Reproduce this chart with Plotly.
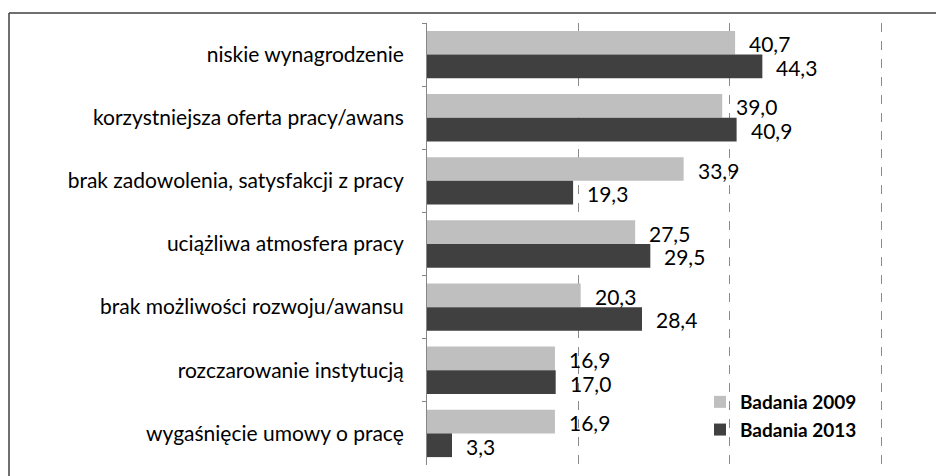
import plotly.graph_objects as go

categories = [
    "niskie wynagrodzenie",
    "korzystniejsza oferta pracy/awans",
    "brak zadowolenia, satysfakcji z pracy",
    "uciążliwa atmosfera pracy",
    "brak możliwości rozwoju/awansu",
    "rozczarowanie instytucją",
    "wygaśnięcie umowy o pracę",
]
values_2009 = [40.7, 39.0, 33.9, 27.5, 20.3, 16.9, 16.9]
values_2013 = [44.3, 40.9, 19.3, 29.5, 28.4, 17.0, 3.3]
series_names = ["Badania 2009", "Badania 2013"]
series_colors = ["#BFBFBF", "#404040"]

FONT = "Lato"
# page body has an 8px margin; figure sized so it fits the 944x476 window
W, H = 936, 468
L, T, B, R = 419, 15, 11, 0
plot_w = W - L - R
plot_h = H - T - B
PX_PER_UNIT = 7.57

fig = go.Figure()
for name, vals, col in zip(series_names, [values_2009, values_2013], series_colors):
    fig.add_trace(go.Bar(
        y=categories, x=vals, name=name, orientation="h",
        marker=dict(color=col, line=dict(width=0)),
    ))

def fmt(v):
    return f"{v:.1f}".replace(".", ",")

band = plot_h / len(categories)
bar_h = band * 0.75 / 2
for vals, sign in [(values_2009, -1), (values_2013, 1)]:
    for cat, v in zip(categories, vals):
        fig.add_annotation(
            x=v, y=cat, text=fmt(v), showarrow=False,
            xanchor="left", yanchor="middle",
            xshift=12, yshift=-sign * bar_h / 2 - 1,
            font=dict(family=FONT, size=21, color="#000000"),
        )

# outer frame (cropped box)
x_left = (1 - L) / plot_w
y_top = (H - B - 5) / plot_h
y_bot = -20 / plot_h
fig.add_shape(type="line", xref="paper", yref="paper", x0=x_left, x1=1.1,
              y0=y_top, y1=y_top, line=dict(color="#404040", width=1.5))
fig.add_shape(type="line", xref="paper", yref="paper", x0=x_left, x1=x_left,
              y0=y_top, y1=y_bot, line=dict(color="#404040", width=1.5))

fig.update_layout(
    width=W, height=H,
    margin=dict(l=L, r=R, t=T, b=B),
    paper_bgcolor="white", plot_bgcolor="white",
    barmode="group", bargap=0.25, bargroupgap=0,
    font=dict(family=FONT, size=21, color="#000000"),
    legend=dict(
        x=(692 - L) / plot_w, y=(H - B - 375) / plot_h,
        xanchor="left", yanchor="top",
        bgcolor="rgba(0,0,0,0)",
        font=dict(family=FONT, size=19, color="#000000", weight="bold"),
        itemwidth=30, tracegroupgap=0,
    ),
    showlegend=True,
)
fig.update_xaxes(
    range=[0, plot_w / PX_PER_UNIT], dtick=20, showgrid=True,
    gridcolor="#8a8a8a", griddash="dash", gridwidth=1,
    showticklabels=False, zeroline=False, showline=False,
)
fig.update_yaxes(
    autorange="reversed", showline=True, linecolor="#868686", linewidth=1,
    ticks="outside", tickson="boundaries", ticklen=4, tickcolor="#868686",
    ticklabelstandoff=18, showgrid=False,
    tickfont=dict(family=FONT, size=21, color="#000000"),
)
fig.write_html("out.html")
